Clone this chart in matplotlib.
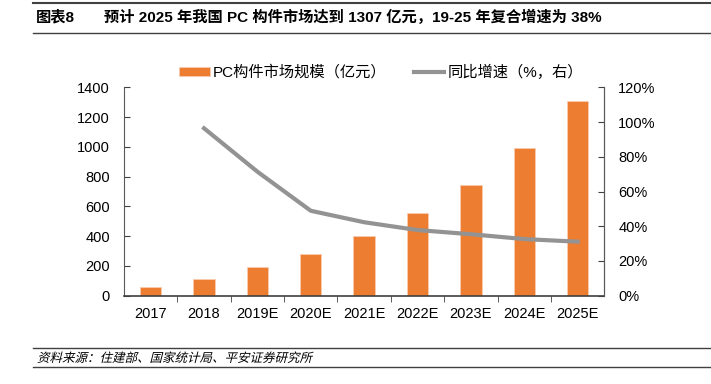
import numpy as np
import matplotlib
matplotlib.use("Agg")
import matplotlib.pyplot as plt
from matplotlib.ticker import FixedLocator, FuncFormatter
from matplotlib.textpath import TextPath
from matplotlib.patches import PathPatch
from matplotlib.font_manager import FontProperties
from matplotlib.transforms import Affine2D

plt.rcParams['font.family'] = ['Liberation Sans', 'Noto Sans CJK SC', 'DejaVu Sans']

years = ['2017', '2018', '2019E', '2020E', '2021E', '2022E', '2023E', '2024E', '2025E']
market_size = [56, 110, 191, 280, 401, 553, 746, 994, 1307]   # 亿元
growth = [np.nan, 96.4, 71.4, 48.9, 42.3, 37.8, 35.4, 32.6, 31.1]  # %

W, H = 711, 384
fig = plt.figure(figsize=(W / 100, H / 100), dpi=100)

# header and footer
fig.add_artist(plt.Line2D([33/W, 1], [1-3/H, 1-3/H], color='#404040', lw=1.5))
fig.add_artist(plt.Line2D([33/W, 1], [1-33/H, 1-33/H], color='#404040', lw=1.0))
fig.text(36/W, 1-17/H, '图表8', fontsize=11, fontweight='bold', va='center')
fig.text(104/W, 1-17/H, '预计 2025 年我国 PC 构件市场达到 1307 亿元，19-25 年复合增速为 38%',
         fontsize=11, fontweight='bold', va='center')
fig.add_artist(plt.Line2D([33/W, 1], [1-348/H, 1-348/H], color='#404040', lw=1.0))
fig.add_artist(plt.Line2D([33/W, 1], [1-367/H, 1-367/H], color='#404040', lw=1.0))

# slanted source note (CJK font has no italic, so skew the glyph outlines)
src = '资料来源：住建部、国家统计局、平安证券研究所'
tp = TextPath((0, 0), src, size=9 * 100 / 72, prop=FontProperties(family='Noto Sans CJK SC'))
tr = Affine2D().skew_deg(14, 0).translate(37, H - 362)
fig.add_artist(PathPatch(tp, transform=tr, color='black', lw=0))

ax = fig.add_axes([124/W, 1-295.7/H, (604.3-124)/W, (295.7-87.3)/H])
x = np.arange(len(years))
bars = ax.bar(x, market_size, width=0.4, color='#ED7D31', edgecolor='#F8CBAD', lw=0.6,
              label='PC构件市场规模（亿元）', zorder=2)
ax.set_xlim(-0.5, len(years) - 0.5)
ax.set_ylim(0, 1400)
ax.set_yticks(np.arange(0, 1401, 200))
ax.set_xticks(x)
ax.set_xticklabels(years)
ax.xaxis.set_minor_locator(FixedLocator(np.arange(0.5, len(years) - 1, 1)))
ax.tick_params(axis='x', which='major', length=0, pad=8, labelsize=10.5)
ax.tick_params(axis='x', which='minor', length=4, direction='out', color='#404040')
ax.tick_params(axis='y', length=4, direction='in', color='#404040', labelsize=10.5, pad=10)
ax.spines['top'].set_visible(False)
for s in ['left', 'right']:
    ax.spines[s].set_color('#595959')
ax.spines['bottom'].set_color('#404040')
ax.spines['bottom'].set_linewidth(1.2)

ax2 = ax.twinx()
line, = ax2.plot(x, growth, color='#939393', lw=3, label='同比增速（%，右）', zorder=3)
ax2.set_ylim(0, 120)
ax2.set_yticks(np.arange(0, 121, 20))
ax2.yaxis.set_major_formatter(FuncFormatter(lambda v, p: f'{v:.0f}%'))
ax2.tick_params(axis='y', length=4, direction='in', color='#404040', labelsize=10.5, pad=10)
ax2.spines['top'].set_visible(False)
ax2.spines['right'].set_color('#595959')
ax2.spines['left'].set_visible(False)
ax2.spines['bottom'].set_visible(False)

fig.legend([bars, line], ['PC构件市场规模（亿元）', '同比增速（%，右）'], ncol=2,
           loc='center', bbox_to_anchor=(381/W, 1-72/H), frameon=False,
           fontsize=11, handlelength=2.0, handleheight=0.5, columnspacing=1.8,
           handletextpad=0.2)

fig.savefig('out.png', dpi=100)
